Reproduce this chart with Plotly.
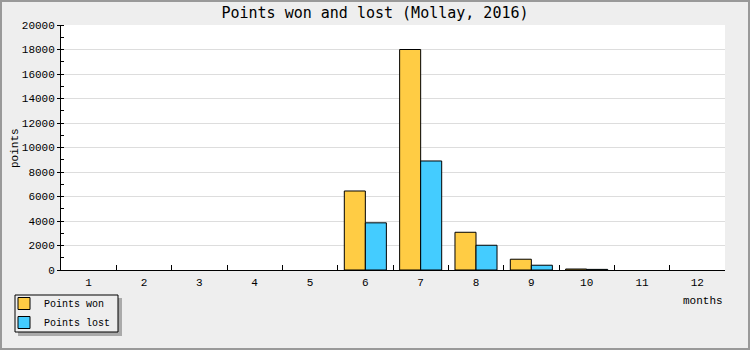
import plotly.graph_objects as go

months = ["1", "2", "3", "4", "5", "6", "7", "8", "9", "10", "11", "12"]
points_won = [0, 0, 0, 0, 0, 6450, 18000, 3080, 880, 80, 0, 0]
points_lost = [0, 0, 0, 0, 0, 3850, 8900, 2020, 390, 50, 0, 0]

FONT = "Liberation Mono"
FS = 11

def shown(vals):
    # zero-valued months draw no bar at all
    return [v if v else None for v in vals]

fig = go.Figure()
fig.add_trace(go.Bar(x=months, y=shown(points_won), name="Points won",
                     marker=dict(color="#FFCC44", line=dict(color="black", width=1))))
fig.add_trace(go.Bar(x=months, y=shown(points_lost), name="Points lost",
                     marker=dict(color="#44CCFF", line=dict(color="black", width=1))))

L, R, T, B = 61, 25, 25, 80
W, H = 750, 350
pw, ph = W - L - R, H - T - B

def px(x):
    return (x - L) / pw

def py(y):
    return (H - B - y) / ph

fig.update_layout(
    width=W, height=H,
    margin=dict(l=L, r=R, t=T, b=B, autoexpand=False),
    paper_bgcolor="#EEEEEE",
    plot_bgcolor="white",
    barmode="group",
    bargap=0.24,
    bargroupgap=0,
    font=dict(family=FONT, size=FS, color="black"),
    title=dict(text="Points won and lost (Mollay, 2016)", x=0.5, xanchor="center",
               y=1 - 13 / H, yanchor="middle",
               font=dict(family="DejaVu Sans Mono", size=15, color="black")),
    showlegend=True,
    legend=dict(x=px(4), y=py(289), xanchor="left", yanchor="top",
                bgcolor="rgba(0,0,0,0)", borderwidth=0,
                font=dict(family=FONT, size=10), traceorder="normal",
                itemwidth=30, tracegroupgap=0),
    xaxis=dict(type="category", showline=True, linecolor="black", linewidth=1,
               ticks="inside", ticklen=5, tickcolor="black", tickson="boundaries",
               showgrid=False, tickfont=dict(family=FONT, size=FS), ticklabelstandoff=2),
    yaxis=dict(range=[0, 20000], dtick=2000, tickformat="d", showline=True,
               linecolor="black", linewidth=1,
               ticks="outside", ticklen=3, tickcolor="black",
               showgrid=True, gridcolor="#DDDDDD", gridwidth=1, zeroline=False,
               tickfont=dict(family=FONT, size=FS),
               minor=dict(dtick=1000, ticks="inside", ticklen=3, tickcolor="black", showgrid=False)),
)

# outer border of the image
fig.add_shape(type="rect", xref="paper", yref="paper",
              x0=px(1), x1=px(W - 1), y0=py(H - 1), y1=py(1),
              line=dict(color="#999999", width=2), fillcolor="rgba(0,0,0,0)", layer="below")
# legend shadow and box
fig.add_shape(type="rect", xref="paper", yref="paper",
              x0=px(18), x1=px(122), y0=py(336), y1=py(298),
              line=dict(width=0), fillcolor="#AAAAAA", layer="above")
fig.add_shape(type="rect", xref="paper", yref="paper",
              x0=px(15), x1=px(118), y0=py(332), y1=py(295),
              line=dict(color="black", width=1), fillcolor="#EEEEEE", layer="above")

fig.add_annotation(text="months", xref="paper", yref="paper", x=px(725), y=py(301),
                   xanchor="right", yanchor="middle", showarrow=False,
                   font=dict(family=FONT, size=FS))
fig.add_annotation(text="points", xref="paper", yref="paper", x=px(15), y=py(148),
                   xanchor="center", yanchor="middle", textangle=-90, showarrow=False,
                   font=dict(family=FONT, size=FS))

fig.write_html("out.html")
